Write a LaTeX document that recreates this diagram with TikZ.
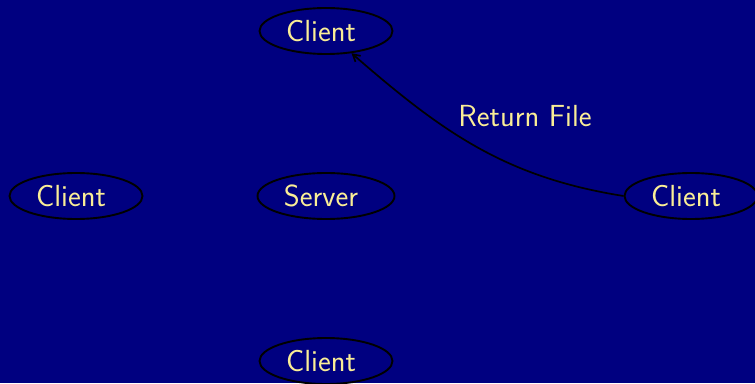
\documentclass[tikz,border=0pt]{standalone}
\usetikzlibrary{shapes.geometric,arrows.meta}
\definecolor{bgnavy}{RGB}{0,0,128}
\definecolor{paleyellow}{RGB}{250,238,150}
\tikzset{
  peer/.style={ellipse, draw=black, line width=1.9pt, text=paleyellow,
    minimum width=133pt, minimum height=46pt, inner sep=0pt,
    font=\sffamily\fontsize{30.5}{36}\selectfont},
  flow/.style={draw=black, line width=1.7pt, -{Straight Barb[length=7pt,width=8pt]}},
  flowlabel/.style={text=paleyellow, font=\sffamily\fontsize{30.5}{36}\selectfont}
}
\newcommand{\peertext}[1]{#1\hspace*{10pt}}
\begin{document}
\begin{tikzpicture}[x=1pt,y=1pt]
  \fill[bgnavy] (0,0) rectangle (755,383);
  \useasboundingbox (0,0) rectangle (755,383);
  \node[peer] (tc) at (326,352) {\peertext{Client}};
  \node[peer] (lc) at (76,187) {\peertext{Client}};
  \node[peer, minimum width=137pt] (sv) at (326,187) {\peertext{Server}};
  \node[peer] (rc) at (691,187) {\peertext{Client}};
  \node[peer] (bc) at (326,22) {\peertext{Client}};
  \draw[flow] (rc.west) to[out=171,in=-41] (tc);
  \node[flowlabel] (rf) at (525,267) {Return File};
\end{tikzpicture}
\end{document}
